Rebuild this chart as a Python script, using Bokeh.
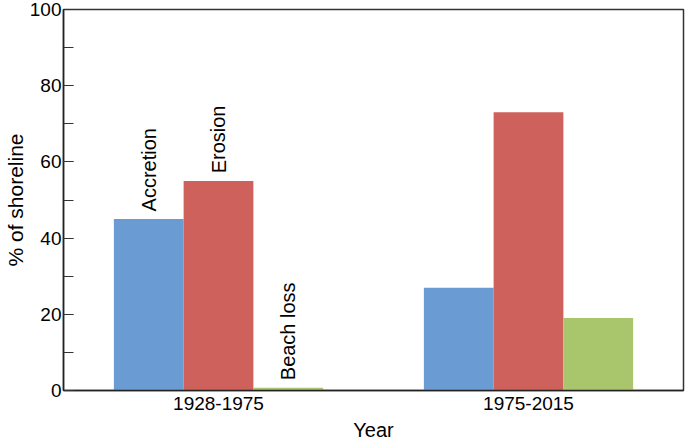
from bokeh.plotting import figure
from bokeh.models import ColumnDataSource, FactorRange, Range1d, SingleIntervalTicker
from bokeh.transform import dodge
from bokeh.core.properties import value
from bokeh.embed import file_html
from bokeh.resources import INLINE

periods = ["1928-1975", "1975-2015"]
accretion = [45, 27]
erosion = [55, 73]
beach_loss = [0.7, 19]

label_text = ["Accretion", "Erosion", "Beach loss"]
label_values = [accretion[0], erosion[0], beach_loss[0]]

FONT = "Liberation Sans"
BW = 0.225

src = ColumnDataSource(dict(periods=periods, accretion=accretion, erosion=erosion, beach_loss=beach_loss))

p = figure(x_range=FactorRange(*periods, range_padding=0), y_range=Range1d(0, 100),
           width=685, height=443, output_backend="svg", toolbar_location=None,
           min_border_left=10, min_border_right=2, min_border_top=9, min_border_bottom=10)

p.vbar(x=dodge("periods", -BW, range=p.x_range), top="accretion", width=BW, source=src,
       fill_color="#6a9bd2", line_color=None)
p.vbar(x=dodge("periods", 0, range=p.x_range), top="erosion", width=BW, source=src,
       fill_color="#cf615d", line_color=None)
p.vbar(x=dodge("periods", BW, range=p.x_range), top="beach_loss", width=BW, source=src,
       fill_color="#a9c66c", line_color=None)

for i, off in enumerate([-BW, 0, BW]):
    s = ColumnDataSource(dict(x=[periods[0]], y=[label_values[i] + 2.0], t=[label_text[i]]))
    p.text(x=dodge("x", off, range=p.x_range), y="y", text="t", source=s, angle=1.5708,
           text_align="left", text_baseline="middle", text_font=value(FONT),
           text_font_size="20px", text_color="black")

p.grid.visible = False
p.outline_line_color = "#333333"
p.outline_line_width = 1.5

p.yaxis.ticker = SingleIntervalTicker(interval=20, num_minor_ticks=2)
p.yaxis.major_tick_in = 10
p.yaxis.major_tick_out = 0
p.yaxis.minor_tick_in = 10
p.yaxis.minor_tick_out = 0
p.yaxis.axis_label = "% of shoreline"
p.xaxis.axis_label = "Year"

for ax in (p.xaxis, p.yaxis):
    ax.axis_line_color = "#222222"
    ax.axis_line_width = 1.5
    ax.major_label_text_font = FONT
    ax.major_label_text_font_size = "19px"
    ax.major_label_text_color = "black"
    ax.axis_label_text_font = FONT
    ax.axis_label_text_font_size = "20px"
    ax.axis_label_text_font_style = "normal"
    ax.axis_label_text_color = "black"
p.yaxis.axis_label_text_font_size = "21px"
p.xaxis.major_tick_line_color = None
p.xaxis.minor_tick_line_color = None
p.xaxis.major_tick_in = 0
p.xaxis.major_tick_out = 0
p.yaxis.major_tick_line_color = "#333333"
p.yaxis.minor_tick_line_color = "#333333"
p.yaxis.major_label_standoff = 2
p.yaxis.axis_label_standoff = 0
p.xaxis.major_label_standoff = 6
p.xaxis.axis_label_standoff = 6

open("out.html", "w").write(file_html(p, INLINE))
